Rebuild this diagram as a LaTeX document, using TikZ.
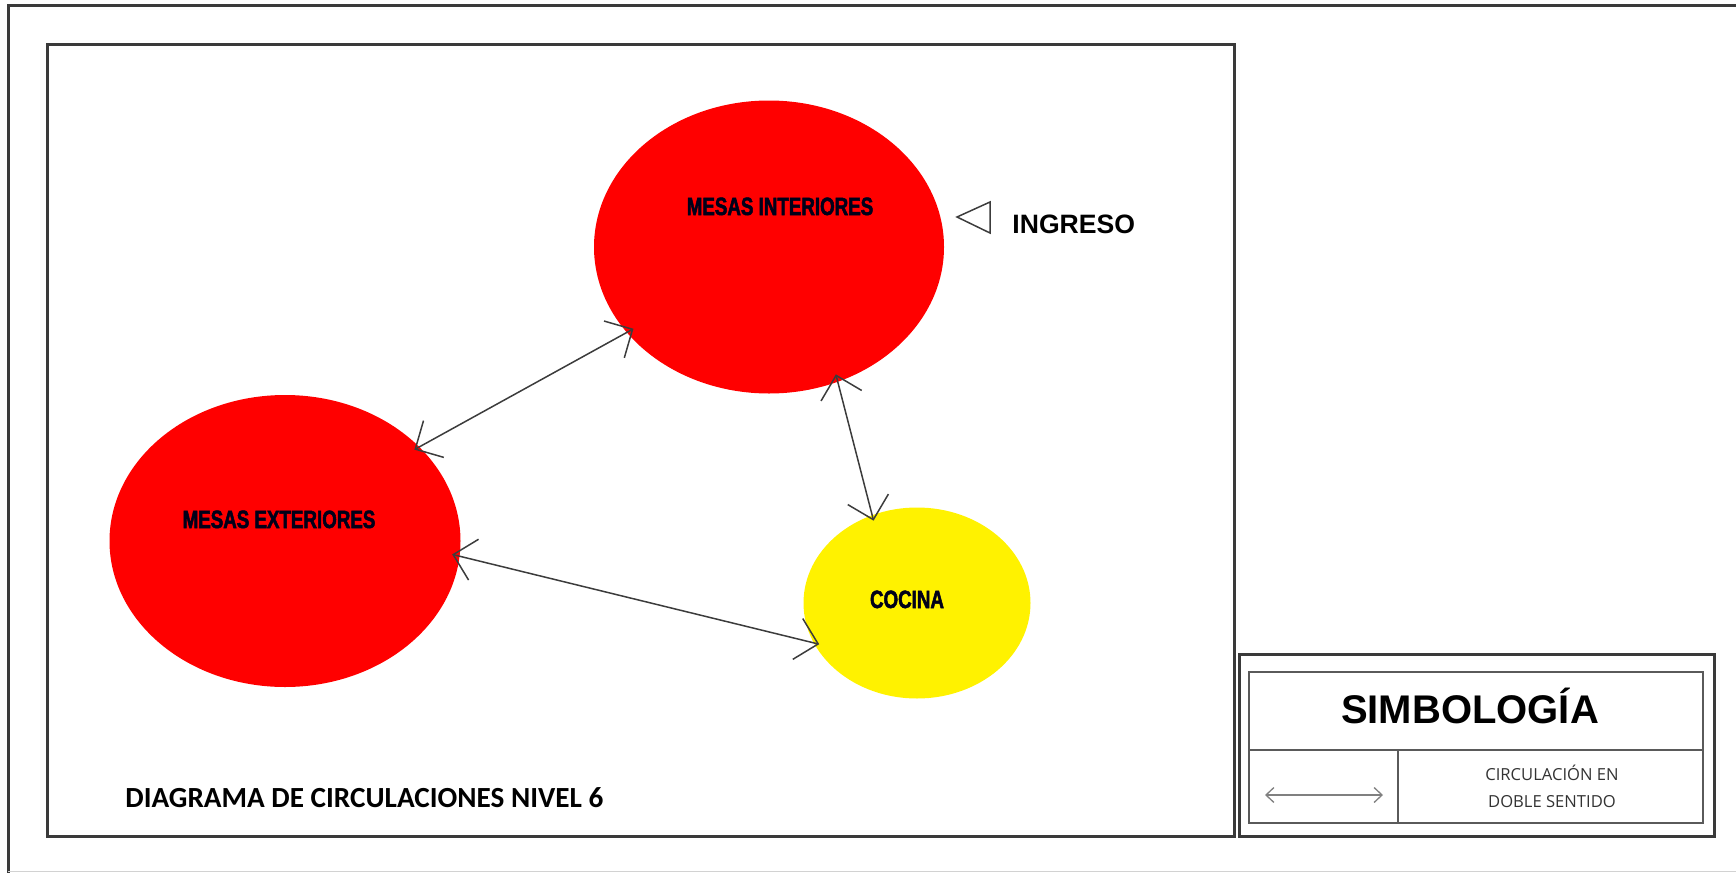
\documentclass[tikz,border=0pt]{standalone}
\usepackage{fontspec}
\setmainfont{Liberation Sans}
\newfontfamily\zonafont[FakeStretch=0.75,FakeBold=2]{Liberation Sans}
\newfontfamily\titulofont{Carlito}
\newfontfamily\notafont{Open Sans}
\usepackage{xcolor}
\definecolor{MesaFill}{HTML}{FF0000}
\definecolor{CocinaFill}{HTML}{FFF200}
\definecolor{FrameLine}{HTML}{3A3A3A}
\definecolor{TableLine}{HTML}{5A5A5A}
\definecolor{ArrowLine}{HTML}{3C3C3C}
\usepackage{tikz}
\usetikzlibrary{arrows.meta,shapes.geometric}

\begin{document}
\begin{tikzpicture}[
    x=0.5pt,y=-0.5pt,
    mesa/.style={
        ellipse,
        draw=none,
        inner sep=0pt,
        fill=MesaFill,
        minimum width=175pt,
        minimum height=146.5pt
    },
    cocina/.style={
        ellipse,
        draw=none,
        inner sep=0pt,
        fill=CocinaFill,
        minimum width=113.5pt,
        minimum height=95.5pt
    },
    zonalab/.style={
        font=\zonafont\bfseries\fontsize{12.5}{14}\selectfont,
        text=black!90!blue,
        anchor=base,
        inner sep=0pt
    },
    arr/.style={
        {Straight Barb[length=10.5pt,width=21pt]}-{Straight Barb[length=10.5pt,width=21pt]},
        line width=0.75pt,
        draw=ArrowLine,
        shorten <=-4pt,
        shorten >=-3pt
    },
    legarr/.style={
        {Straight Barb[length=4pt,width=7.5pt]}-{Straight Barb[length=4pt,width=7.5pt]},
        line width=0.65pt,
        draw=gray
    },
    frame/.style={draw=FrameLine,line width=1.5pt},
    tabla/.style={draw=TableLine,line width=1pt},
    nota/.style={
        font=\notafont\fontsize{8.3}{10}\selectfont,
        text=black!80,
        anchor=base,
        inner sep=0pt
    }
]

\useasboundingbox (0,0) rectangle (1736,873);

% ---------------------------------------------------------
% Marcos
% ---------------------------------------------------------

\draw[frame] (8,873) -- (8,5) -- (1736,5);
\draw[gray!35,line width=0.5pt] (8,871) -- (1736,871);

\draw[frame] (47,44) rectangle (1234,836);

% ---------------------------------------------------------
% Zonas
% ---------------------------------------------------------

\node[mesa] (mi) at (769,247) {};
\node[zonalab] (mi-txt) at (780,215) {MESAS INTERIORES};

\node[mesa,minimum width=175.5pt,minimum height=146pt] (me) at (285,541) {};
\node[zonalab] (me-txt) at (279,528) {MESAS EXTERIORES};

\node[cocina] (coc) at (917,603) {};
\node[zonalab] (coc-txt) at (907,608) {COCINA};

% ingreso
\draw[ArrowLine,line width=0.75pt,line join=miter]
(957,217) -- (990,202) -- (990,233) -- cycle;
\node[font=\bfseries\fontsize{13.3}{15}\selectfont,anchor=base west,inner sep=0pt]
(ingreso) at (1012,233) {INGRESO};

% ---------------------------------------------------------
% Circulaciones
% ---------------------------------------------------------

\draw[arr] (mi.211) -- (me.35);

\draw[arr] (mi.297) -- (coc.117);

\draw[arr] (me.355) -- (coc.201);

\node[font=\titulofont\bfseries\fontsize{14.6}{17}\selectfont,anchor=base west,inner sep=0pt]
(titulo) at (125,807) {DIAGRAMA DE CIRCULACIONES NIVEL 6};

% ---------------------------------------------------------
% Simbologia
% ---------------------------------------------------------

\draw[frame] (1239,654) rectangle (1714,836);
\draw[tabla] (1249,672) rectangle (1703,823);
\draw[tabla] (1249,750) -- (1703,750);
\draw[tabla] (1398,750) -- (1398,823);

\node[font=\bfseries\fontsize{20}{24}\selectfont,anchor=base,inner sep=0pt]
(simb) at (1470,723) {SIMBOLOGÍA};

\coordinate (leg-a) at (1265,795);
\coordinate (leg-b) at (1383,795);
\draw[legarr] (leg-a) -- (leg-b);

\node[nota] (circ1) at (1552,780) {CIRCULACIÓN EN};
\node[nota] (circ2) at (1552,807) {DOBLE SENTIDO};

\end{tikzpicture}
\end{document}
